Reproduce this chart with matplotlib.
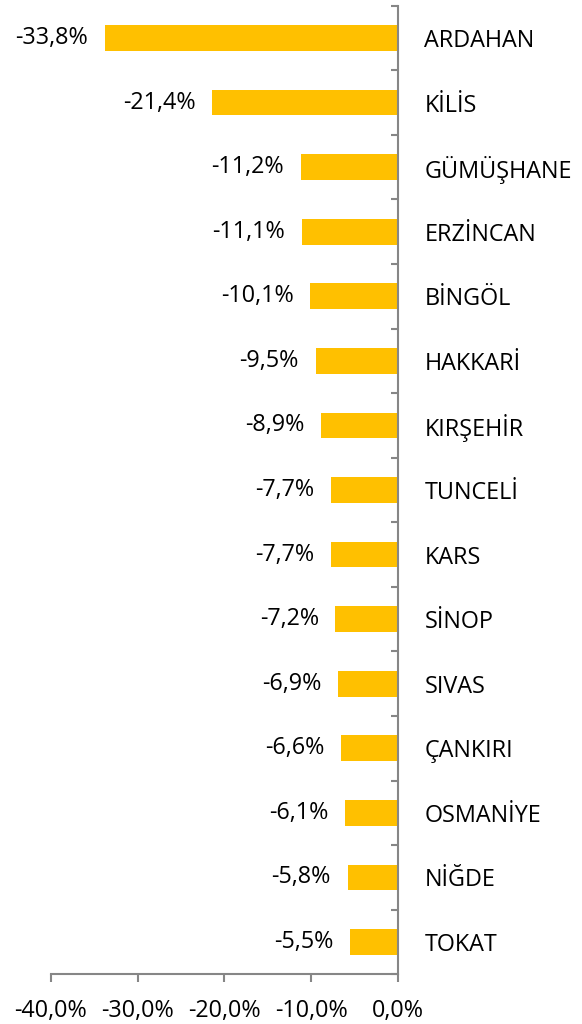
import matplotlib
matplotlib.use("Agg")
import matplotlib.pyplot as plt
from matplotlib.ticker import FixedLocator, FuncFormatter

provinces = ["ARDAHAN", "KİLİS", "GÜMÜŞHANE", "ERZİNCAN", "BİNGÖL", "HAKKARİ",
             "KIRŞEHİR", "TUNCELİ", "KARS", "SİNOP", "SIVAS", "ÇANKIRI",
             "OSMANİYE", "NİĞDE", "TOKAT"]
values = [-33.8, -21.4, -11.2, -11.1, -10.1, -9.5, -8.9, -7.7, -7.7, -7.2,
          -6.9, -6.6, -6.1, -5.8, -5.5]
xticks = [-40, -30, -20, -10, 0]

plt.rcParams['font.family'] = ['Open Sans', 'DejaVu Sans']
fig = plt.figure(figsize=(5.82, 10.24), dpi=100)
ax = fig.add_axes([50.7/582, 1-974.3/1024, (398-50.7)/582, (974.3-5.7)/1024])

FS = 16.8
n = len(provinces)
pos = list(range(n))
ax.barh(pos, values, height=0.4, color="#FFC000")
ax.set_ylim(n - 0.5, -0.5)
ax.set_xlim(-40, 0)

fmt = lambda v: f"{v:.1f}".replace(".", ",") + "%"
for p, v in zip(pos, values):
    ax.annotate(fmt(v), xy=(v, p), xytext=(-12, 0), textcoords="offset points",
                ha="right", va="center", fontsize=FS, color="#000000")

gray = "#868686"
for s in ["left", "top"]:
    ax.spines[s].set_visible(False)
ax.spines["right"].set_color(gray)
ax.spines["bottom"].set_color(gray)
ax.spines["right"].set_linewidth(1.5)
ax.spines["bottom"].set_linewidth(1.5)

ax.set_xticks(xticks)
ax.xaxis.set_major_formatter(FuncFormatter(lambda v, _: fmt(v)))
ax.tick_params(axis="x", direction="out", length=6, width=1.5, color=gray,
               labelsize=FS, pad=11.5, labelcolor="#000000")

ax.yaxis.tick_right()
ax.set_yticks(pos)
ax.set_yticklabels(provinces)
ax.yaxis.set_minor_locator(FixedLocator([i - 0.5 for i in range(n + 1)]))
ax.tick_params(axis="y", which="major", length=0, pad=19, labelsize=FS,
               labelcolor="#000000")
ax.tick_params(axis="y", which="minor", direction="in", length=5, width=1.5,
               color=gray, right=True, left=False)
for lbl in ax.get_yticklabels():
    lbl.set_horizontalalignment("left")

fig.savefig("out.png", dpi=100)
